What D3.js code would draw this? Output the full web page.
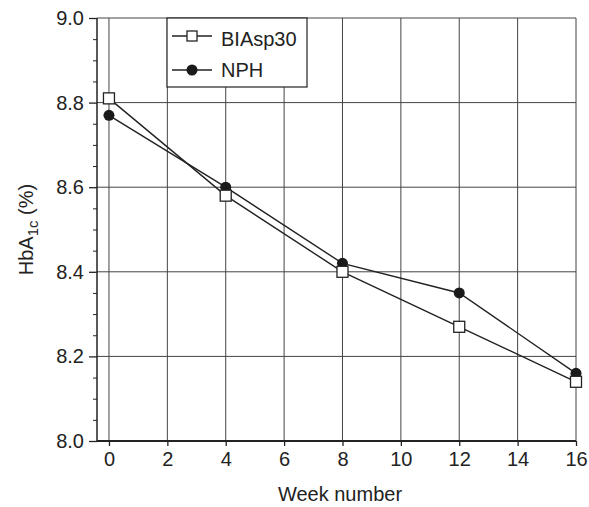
<!DOCTYPE html>
<html>
<head>
<meta charset="utf-8">
<script src="https://cdn.jsdelivr.net/npm/d3@7"></script>
<style>
  body { margin: 0; background: #fff; }
  text { font-family: "Liberation Sans", Arial, sans-serif; fill: #222; }
</style>
</head>
<body>
<svg id="chart"></svg>
<script>
var weeks = [0, 4, 8, 12, 16];
var biasp30 = [8.81, 8.58, 8.40, 8.27, 8.14];
var nph = [8.77, 8.60, 8.42, 8.35, 8.16];
var xTicks = [0, 2, 4, 6, 8, 10, 12, 14, 16];
var yTicks = [8.0, 8.2, 8.4, 8.6, 8.8, 9.0];
var seriesNames = ["BIAsp30", "NPH"];

var width = 589, height = 507;
var pLeft = 97, pRight = 576, pTop = 18, pBottom = 441;

var svg = d3.select("#chart")
    .attr("width", width)
    .attr("height", height);

var x = d3.scaleLinear()
    .domain([-0.41, 16])
    .range([pLeft, pRight]);

var y = d3.scaleLinear()
    .domain([8.0, 9.0])
    .range([pBottom, pTop]);

// grid
svg.append("g").selectAll("line")
    .data(xTicks)
    .enter().append("line")
    .attr("x1", d => x(d)).attr("x2", d => x(d))
    .attr("y1", pTop).attr("y2", pBottom)
    .style("stroke", "#444").style("stroke-width", 1);

svg.append("g").selectAll("line")
    .data(yTicks)
    .enter().append("line")
    .attr("x1", pLeft).attr("x2", pRight)
    .attr("y1", d => y(d)).attr("y2", d => y(d))
    .style("stroke", "#444").style("stroke-width", 1);

// y axis
var yAxis = d3.axisLeft(y)
    .tickValues(yTicks)
    .tickFormat(d3.format(".1f"))
    .tickSize(8)
    .tickPadding(5);

var yMinor = d3.axisLeft(y)
    .tickValues(d3.range(8.05, 9.0, 0.05).filter(v => Math.abs(v * 5 - Math.round(v * 5)) > 0.01))
    .tickFormat("")
    .tickSize(4);

svg.append("g")
    .attr("transform", "translate(" + pLeft + ",0)")
    .call(yMinor)
    .call(g => g.select(".domain").remove())
    .selectAll("line").style("stroke", "#222");

svg.append("g")
    .attr("class", "y axis")
    .attr("transform", "translate(" + pLeft + ",0)")
    .call(yAxis)
    .call(g => g.select(".domain").attr("d", "M0," + pTop + "V" + pBottom).style("stroke", "#222").style("stroke-width", 1.5))
    .call(g => g.selectAll("line").style("stroke", "#222").style("stroke-width", 1.3))
    .selectAll("text")
    .style("font-size", "20px")
    .style("font-family", "'Liberation Sans', Arial, sans-serif")
    .style("fill", "#222");

// x axis
var xAxis = d3.axisBottom(x)
    .tickValues(xTicks)
    .tickSize(5)
    .tickPadding(6);

svg.append("g")
    .attr("class", "x axis")
    .attr("transform", "translate(0," + pBottom + ")")
    .call(xAxis)
    .call(g => g.select(".domain").attr("d", "M" + pLeft + ",0H" + pRight).style("stroke", "#222").style("stroke-width", 2))
    .call(g => g.selectAll("line").style("stroke", "#222").style("stroke-width", 1.3))
    .selectAll("text")
    .style("font-size", "20px")
    .style("font-family", "'Liberation Sans', Arial, sans-serif")
    .style("fill", "#222");

// axis titles
svg.append("text")
    .attr("x", 340)
    .attr("y", 501)
    .attr("text-anchor", "middle")
    .style("font-size", "20px")
    .text("Week number");

var yt = svg.append("text")
    .attr("transform", "translate(33," + ((pTop + pBottom) / 2) + ") rotate(-90)")
    .attr("text-anchor", "middle")
    .style("font-size", "20px");
yt.append("tspan").text("HbA");
yt.append("tspan").attr("dy", 5).style("font-size", "15px").text("1c");
yt.append("tspan").attr("dy", -5).text(" (%)");

// lines
var line = d3.line()
    .x((d, i) => x(weeks[i]))
    .y(d => y(d));

svg.append("path")
    .datum(nph)
    .attr("d", line)
    .style("fill", "none").style("stroke", "#222").style("stroke-width", 1.4);

svg.append("path")
    .datum(biasp30)
    .attr("d", line)
    .style("fill", "none").style("stroke", "#222").style("stroke-width", 1.4);

svg.append("g").selectAll("circle")
    .data(nph)
    .enter().append("circle")
    .attr("cx", (d, i) => x(weeks[i]))
    .attr("cy", d => y(d))
    .attr("r", 5.5)
    .style("fill", "#1a1a1a");

var sq = 11;
svg.append("g").selectAll("rect")
    .data(biasp30)
    .enter().append("rect")
    .attr("x", (d, i) => x(weeks[i]) - sq / 2)
    .attr("y", d => y(d) - sq / 2)
    .attr("width", sq).attr("height", sq)
    .style("fill", "#fff").style("stroke", "#222").style("stroke-width", 1.3);

// legend
var legend = svg.append("g");
legend.append("rect")
    .attr("x", 167).attr("y", pTop)
    .attr("width", 140).attr("height", 69)
    .style("fill", "#fff").style("stroke", "#222").style("stroke-width", 1.2);

var ly = [36, 70];
var lyText = [46, 77];
seriesNames.forEach(function(name, i) {
  legend.append("line")
    .attr("x1", 172).attr("x2", 212)
    .attr("y1", ly[i]).attr("y2", ly[i])
    .style("stroke", "#222").style("stroke-width", 1.4);
  if (i === 0) {
    legend.append("rect")
      .attr("x", 192 - 5).attr("y", ly[i] - 5)
      .attr("width", 10).attr("height", 10)
      .style("fill", "#fff").style("stroke", "#222").style("stroke-width", 1.3);
  } else {
    legend.append("circle")
      .attr("cx", 192).attr("cy", ly[i]).attr("r", 5.5)
      .style("fill", "#1a1a1a");
  }
  legend.append("text")
    .attr("x", 221).attr("y", lyText[i])
    .style("font-size", "20px")
    .text(name);
});
</script>
</body>
</html>
